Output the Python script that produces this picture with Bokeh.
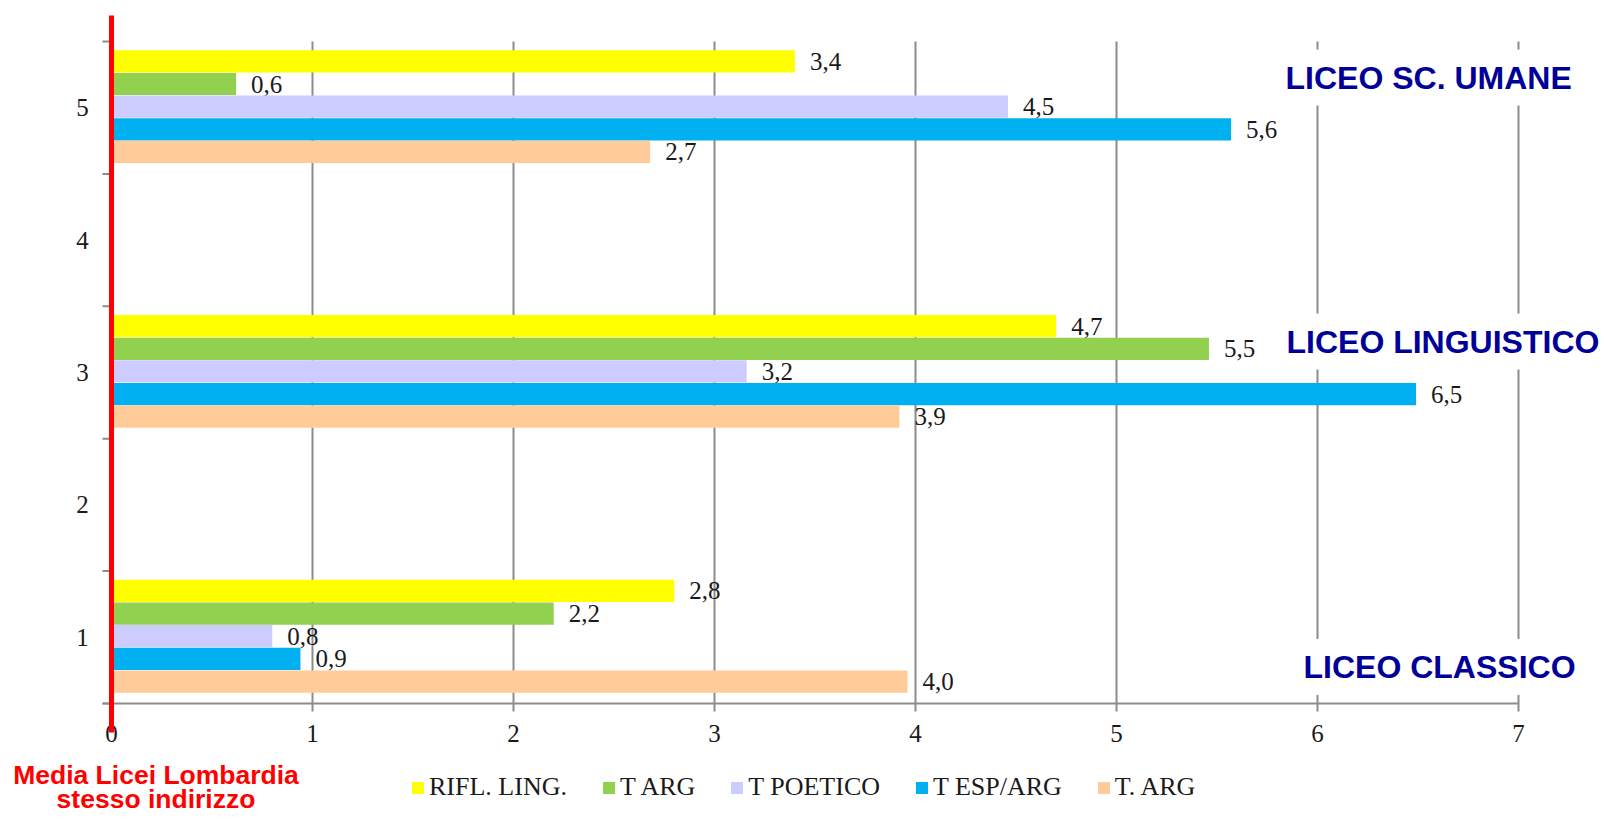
from bokeh.plotting import figure
from bokeh.models import Range1d, Label, Legend, LegendItem
from bokeh.core.properties import value
from bokeh.embed import file_html
from bokeh.resources import INLINE

# ---------------- data ----------------
series_names = ["RIFL. LING.", "T ARG", "T POETICO", "T ESP/ARG", "T. ARG"]
series_colors = ["#FFFF00", "#92D050", "#CCCCFF", "#00B0F0", "#FFCC99"]
group_pos = [1, 3, 5]
school_names = ["LICEO CLASSICO", "LICEO LINGUISTICO", "LICEO SC. UMANE"]
rifl_ling = [2.80, 4.70, 3.40]
t_arg_a = [2.20, 5.46, 0.62]
t_poetico = [0.80, 3.16, 4.46]
t_esp_arg = [0.94, 6.49, 5.57]
t_arg_b = [3.96, 3.92, 2.68]
x_ticks = [0, 1, 2, 3, 4, 5, 6, 7]
y_ticks = [1, 2, 3, 4, 5]
y_bounds = [0.5, 1.5, 2.5, 3.5, 4.5, 5.5]
note_lines = ["Media Licei Lombardia", "stesso indirizzo"]

series_values = [rifl_ling, t_arg_a, t_poetico, t_esp_arg, t_arg_b]

# ---------------- geometry (canvas pixels) ----------------
W, H = 1602, 816
X0 = 111         # canvas x of value 0
PXX = 201.0      # px per x unit
YB = 703         # canvas y of 0.5 (x axis)
PXY = 132.4      # px per category


def dx(px):
    return px / PXX


def dy(px):
    return px / PXY


def xs(px):  # canvas x -> data
    return (px - X0) / PXX


def ys(py):  # canvas y -> data
    return 0.5 + (YB - py) / PXY


x_range = Range1d(xs(0), xs(W))
y_range = Range1d(ys(H), ys(0))

p = figure(width=W, height=H, x_range=x_range, y_range=y_range,
           output_backend="svg", toolbar_location=None,
           x_axis_location=None, y_axis_location=None,
           min_border_left=0, min_border_right=0,
           min_border_top=0, min_border_bottom=0)
p.outline_line_color = None
p.xgrid.visible = False
p.ygrid.visible = False

GRID = "#8C8C8C"
TXT = "#1A1A1A"
SERIF = "Liberation Serif"

# vertical gridlines + x tick marks
p.segment(x0=x_ticks, y0=[0.5 - dy(8)] * len(x_ticks), x1=x_ticks,
          y1=[y_bounds[-1]] * len(x_ticks), line_color=GRID, line_width=2)

# y tick marks
p.segment(x0=[dx(-9)] * len(y_bounds), y0=y_bounds, x1=[dx(-1)] * len(y_bounds),
          y1=y_bounds, line_color=GRID, line_width=2)

# bars
step = 0.171
renderers = []
for i, (name, col, vals) in enumerate(zip(series_names, series_colors, series_values)):
    off = (2 - i) * step + 0.008
    yv = [g + off for g in group_pos]
    r = p.hbar(y=yv, left=0, right=vals, height=0.168, fill_color=col, line_color=None)
    renderers.append(r)
    labels = [f"{v:.1f}".replace(".", ",") for v in vals]
    p.text(x=vals, y=yv, text=labels, x_offset=15, y_offset=0,
           text_baseline="middle", text_align="left",
           text_font=value(SERIF), text_font_size="25px", text_color=TXT)

# x tick labels
p.text(x=x_ticks, y=[0.5 - dy(30)] * len(x_ticks), text=[str(t) for t in x_ticks],
       text_align="center", text_baseline="middle",
       text_font=value(SERIF), text_font_size="25px", text_color=TXT)

# y tick labels
p.text(x=[dx(-29)] * len(y_ticks), y=y_ticks, text=[str(t) for t in y_ticks],
       text_align="center", text_baseline="middle",
       text_font=value(SERIF), text_font_size="25px", text_color=TXT)

# school labels (white box hides gridlines behind them)
school_left_px = [1293, 1276, 1275]
school_base_px = [666.5, 341, 77]
for name, lx, by in zip(school_names, school_left_px, school_base_px):
    p.add_layout(Label(x=xs(lx), y=ys(by), text=name,
                       text_font="Liberation Sans", text_font_style="bold",
                       text_font_size="32px", text_color="#000099",
                       text_baseline="alphabetic", text_align="left",
                       background_fill_color="white", padding=10))

# x axis line (drawn above the label boxes)
p.segment(x0=[dx(-9)], y0=[0.5], x1=[x_ticks[-1]], y1=[0.5],
          line_color=GRID, line_width=2, level="overlay")

# red reference line at 0
p.segment(x0=[0], y0=[0.5 - dy(29)], x1=[0], y1=[5.5 + dy(26)],
          line_color="#FF0000", line_width=5, level="overlay")

# note text
for line, by in zip(note_lines, [774, 798]):
    p.add_layout(Label(x=xs(155.5), y=ys(by), text=line,
                       text_font="Liberation Sans", text_font_style="bold",
                       text_font_size="26.5px", text_color="#FF0000",
                       text_baseline="alphabetic", text_align="center"))

legend = Legend(items=[LegendItem(label=n, renderers=[r]) for n, r in zip(series_names, renderers)],
                orientation="horizontal", location=(410, 14),
                glyph_width=15, glyph_height=15, label_standoff=4, spacing=34,
                padding=0, margin=0, border_line_color=None, background_fill_alpha=0,
                label_text_font=SERIF, label_text_font_size="26px", label_text_color=TXT)
p.add_layout(legend)

open("out.html", "w").write(file_html(p, INLINE))
